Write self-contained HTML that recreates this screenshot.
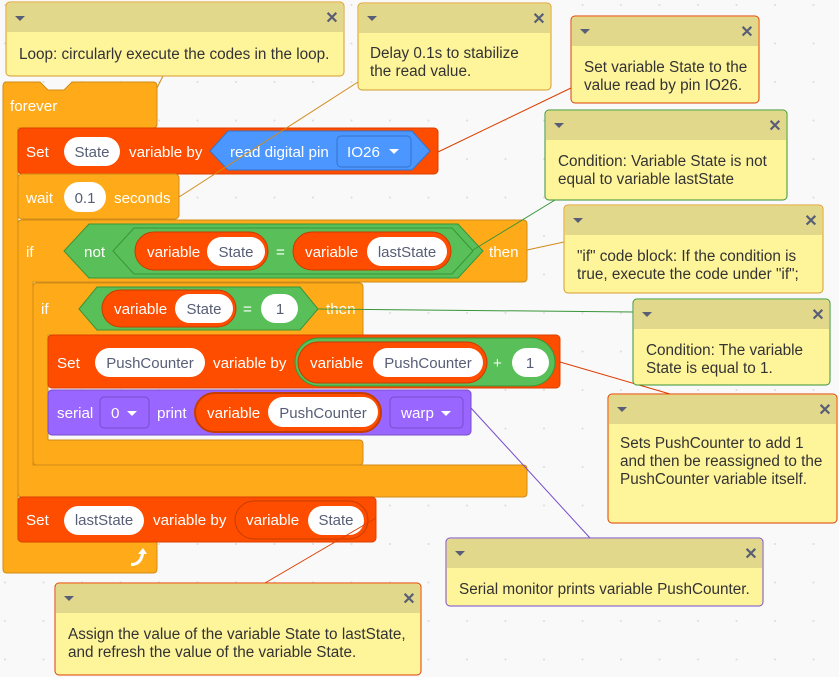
<!DOCTYPE html>
<html><head><meta charset="utf-8"><style>
html,body{margin:0;padding:0;background:#f9f9f9;}
svg{display:block;font-family:"Liberation Sans",Arial,sans-serif;}
.w{fill:#fff;font-size:15.2px;}
.g{fill:#575e75;font-size:15px;text-anchor:middle;}
.c{fill:#333;font-size:15.3px;}
.blk{fill:#ffab19;stroke:#cf8b17;stroke-width:1;}
.red{fill:#ff4d00;stroke:#db3e00;stroke-width:1;}
.pill{fill:#fff;}
.hex{fill:#59c059;stroke:#389438;stroke-width:1;}
</style></head><body>
<svg width="839" height="677" viewBox="0 0 839 677" xmlns="http://www.w3.org/2000/svg">
<defs>
<pattern id="dots" width="38.5" height="38.5" patternUnits="userSpaceOnUse" x="3" y="3">
<circle cx="2" cy="2" r="1" fill="#dcdcdc"/>
</pattern>
<g id="tri"><path d="M0 0 L10 0 L5 5 Z" fill="#575e75"/></g>
</defs>
<rect width="839" height="677" fill="#f9f9f9"/>
<rect width="839" height="677" fill="url(#dots)"/>

<!-- forever -->
<path class="blk" d="M7 82 L40 82 L48 90 L64 90 L72 82 L153 82 Q157 82 157 86 L157 124 Q157 128 153 128 L18 128 L18 540 L153 540 Q157 540 157 544 L157 569 Q157 573 153 573 L7 573 Q3 573 3 569 L3 86 Q3 82 7 82 Z"/>
<text class="w" x="10" y="111">forever</text>
<path d="M131 563 Q139 563 141 554 L138 554 L143 548 L147 554 L144 554 Q142 566 131 566 Z" fill="#fff"/>

<!-- if outer -->
<path class="blk" d="M22 220 L523 220 Q527 220 527 224 L527 278 Q527 282 523 282 L33 282 L33 465 L523 465 Q527 465 527 469 L527 493 Q527 497 523 497 L22 497 Q18 497 18 493 L18 224 Q18 220 22 220 Z"/>
<text class="w" x="26" y="257">if</text>
<polygon class="hex" points="64,251 89,224 458,224 483,251 458,278 89,278"/>
<text class="w" x="84" y="257">not</text>
<polygon class="hex" points="113,251 134,228 452,228 473,251 452,274 134,274"/>
<rect x="135" y="232" width="133" height="38" rx="19" fill="#ff4d00" stroke="#c53d00"/>
<text class="w" x="147" y="257">variable</text>
<rect class="pill" x="207" y="237" width="58" height="29" rx="14.5"/>
<text class="g" x="236" y="257">State</text>
<text class="w" x="276" y="257">=</text>
<rect x="293" y="232" width="158" height="38" rx="19" fill="#ff4d00" stroke="#c53d00"/>
<text class="w" x="305" y="257">variable</text>
<rect class="pill" x="367" y="237" width="80" height="29" rx="14.5"/>
<text class="g" x="407" y="257">lastState</text>
<text class="w" x="489" y="257">then</text>

<!-- inner if -->
<path class="blk" d="M37 283 L359 283 Q363 283 363 287 L363 335 L48 335 L48 440 L359 440 Q363 440 363 444 L363 461 Q363 465 359 465 L37 465 Q33 465 33 461 L33 287 Q33 283 37 283 Z"/>
<text class="w" x="41" y="314">if</text>
<polygon class="hex" points="79,309 97,287 300,287 318,309 300,330 97,330"/>
<rect x="102" y="290" width="134" height="37" rx="18.5" fill="#ff4d00" stroke="#c53d00"/>
<text class="w" x="114" y="314">variable</text>
<rect class="pill" x="175" y="294" width="58" height="29" rx="14.5"/>
<text class="g" x="204" y="314">State</text>
<text class="w" x="243" y="314">=</text>
<rect class="pill" x="261" y="294" width="37" height="29" rx="14.5"/>
<text class="g" x="280" y="314">1</text>
<text class="w" x="326" y="314">then</text>

<!-- set state -->
<rect class="red" x="18" y="128" width="420" height="46" rx="4"/>
<text class="w" x="26" y="157">Set</text>
<rect class="pill" x="64" y="137" width="56" height="29" rx="14.5"/>
<text class="g" x="92" y="157">State</text>
<text class="w" x="129" y="157">variable by</text>
<polygon points="210,151 228,131 412,131 430,151 412,170 228,170" fill="#4c97ff" stroke="#3373cc"/>
<text class="w" x="230" y="157">read digital pin</text>
<rect x="337" y="136" width="74" height="31" rx="4" fill="#4c97ff" stroke="#3373cc"/>
<text class="w" x="347" y="157">IO26</text>
<path d="M389 149 L399 149 L394 154 Z" fill="#fff"/>

<!-- wait -->
<rect class="blk" x="18" y="174" width="161" height="45" rx="4"/>
<text class="w" x="26" y="203">wait</text>
<rect class="pill" x="64" y="182" width="42" height="30" rx="15"/>
<text class="g" x="85" y="203">0.1</text>
<text class="w" x="114" y="203">seconds</text>

<!-- set pushcounter -->
<rect class="red" x="48" y="335" width="512" height="53" rx="4"/>
<text class="w" x="57" y="368">Set</text>
<rect class="pill" x="95" y="348" width="110" height="29" rx="14.5"/>
<text class="g" x="150" y="368">PushCounter</text>
<text class="w" x="213" y="368">variable by</text>
<rect x="295" y="338" width="260" height="48" rx="24" fill="#59c059" stroke="#389438"/>
<rect x="298" y="342" width="189" height="41" rx="20.5" fill="#ff4d00" stroke="#c53d00"/>
<text class="w" x="310" y="368">variable</text>
<rect class="pill" x="373" y="348" width="110" height="29" rx="14.5"/>
<text class="g" x="428" y="368">PushCounter</text>
<text class="w" x="493" y="368">+</text>
<rect class="pill" x="512" y="348" width="37" height="29" rx="14.5"/>
<text class="g" x="530" y="368">1</text>

<!-- serial -->
<rect x="48" y="390" width="423" height="45" rx="4" fill="#9966ff" stroke="#774dcb"/>
<text class="w" x="57" y="418">serial</text>
<rect x="100" y="397" width="49" height="31" rx="4" fill="#9966ff" stroke="#774dcb"/>
<text class="w" x="111" y="418">0</text>
<path d="M127 411 L137 411 L132 416 Z" fill="#fff"/>
<text class="w" x="157" y="418">print</text>
<rect x="195" y="393" width="186" height="39" rx="19.5" fill="#ff4d00" stroke="#c53d00" stroke-width="2"/>
<text class="w" x="207" y="418">variable</text>
<rect class="pill" x="268" y="397" width="110" height="30" rx="15"/>
<text class="g" x="323" y="418">PushCounter</text>
<rect x="390" y="397" width="73" height="31" rx="4" fill="#9966ff" stroke="#774dcb"/>
<text class="w" x="401" y="418">warp</text>
<path d="M441 411 L451 411 L446 416 Z" fill="#fff"/>

<!-- set laststate -->
<rect class="red" x="18" y="497" width="358" height="45" rx="4"/>
<text class="w" x="26" y="525">Set</text>
<rect class="pill" x="64" y="506" width="80" height="29" rx="14.5"/>
<text class="g" x="104" y="525">lastState</text>
<text class="w" x="153" y="525">variable by</text>
<rect x="235" y="501" width="133" height="38" rx="19" fill="#ff4d00" stroke="#c53d00"/>
<text class="w" x="246" y="525">variable</text>
<rect class="pill" x="308" y="506" width="56" height="29" rx="14.5"/>
<text class="g" x="336" y="525">State</text>

<!-- connector lines -->
<g stroke-width="1" fill="none">
<line x1="157" y1="88" x2="163" y2="76" stroke="#cf8b17"/>
<line x1="179" y1="197" x2="358" y2="82" stroke="#cf8b17"/>
<line x1="438" y1="152" x2="571" y2="88" stroke="#db3e00"/>
<line x1="473" y1="250" x2="555" y2="200" stroke="#389438"/>
<line x1="527" y1="250" x2="564" y2="242" stroke="#cf8b17"/>
<line x1="318" y1="309" x2="633" y2="312" stroke="#389438"/>
<line x1="560" y1="362" x2="670" y2="394" stroke="#db3e00"/>
<line x1="471" y1="408" x2="590" y2="538" stroke="#774dcb"/>
<line x1="376" y1="518" x2="265" y2="583" stroke="#db3e00"/>
</g>

<!-- comments -->
<g>
<rect x="6" y="2" width="338" height="74" rx="4" fill="#fef49a" stroke="#d89a30"/>
<path d="M7 32 L7 6 Q7 3 10 3 L340 3 Q343 3 343 6 L343 32 Z" fill="#e2d88c"/>
<use href="#tri" x="15" y="16"/><text x="332" y="23" text-anchor="middle" fill="#575e75" font-size="16" font-weight="bold">✕</text>
<text class="c" x="19" y="59">Loop: circularly execute the codes in the loop.</text>

<rect x="358" y="3" width="193" height="87" rx="4" fill="#fef49a" stroke="#d89a30"/>
<path d="M359 33 L359 7 Q359 4 362 4 L547 4 Q550 4 550 7 L550 33 Z" fill="#e2d88c"/>
<use href="#tri" x="367" y="16"/><text x="539" y="24" text-anchor="middle" fill="#575e75" font-size="16" font-weight="bold">✕</text>
<text class="c" x="370" y="58">Delay 0.1s to stabilize</text>
<text class="c" x="370" y="76">the read value.</text>

<rect x="571" y="16" width="188" height="87" rx="4" fill="#fef49a" stroke="#db3e00"/>
<path d="M572 46 L572 20 Q572 17 575 17 L755 17 Q758 17 758 20 L758 46 Z" fill="#e2d88c"/>
<use href="#tri" x="580" y="29"/><text x="747" y="37" text-anchor="middle" fill="#575e75" font-size="16" font-weight="bold">✕</text>
<text class="c" x="584" y="72">Set variable State to the</text>
<text class="c" x="584" y="90">value read by pin IO26.</text>

<rect x="545" y="110" width="242" height="90" rx="4" fill="#fef49a" stroke="#389438"/>
<path d="M546 140 L546 114 Q546 111 549 111 L783 111 Q786 111 786 114 L786 140 Z" fill="#e2d88c"/>
<use href="#tri" x="554" y="123"/><text x="775" y="131" text-anchor="middle" fill="#575e75" font-size="16" font-weight="bold">✕</text>
<text class="c" x="558" y="166">Condition: Variable State is not</text>
<text class="c" x="558" y="184">equal to variable lastState</text>

<rect x="564" y="205" width="259" height="88" rx="4" fill="#fef49a" stroke="#d89a30"/>
<path d="M565 235 L565 209 Q565 206 568 206 L819 206 Q822 206 822 209 L822 235 Z" fill="#e2d88c"/>
<use href="#tri" x="573" y="218"/><text x="811" y="226" text-anchor="middle" fill="#575e75" font-size="16" font-weight="bold">✕</text>
<text class="c" x="577" y="261">"if" code block: If the condition is</text>
<text class="c" x="577" y="279">true, execute the code under "if";</text>

<rect x="633" y="299" width="197" height="86" rx="4" fill="#fef49a" stroke="#389438"/>
<path d="M634 329 L634 303 Q634 300 637 300 L826 300 Q829 300 829 303 L829 329 Z" fill="#e2d88c"/>
<use href="#tri" x="642" y="312"/><text x="818" y="320" text-anchor="middle" fill="#575e75" font-size="16" font-weight="bold">✕</text>
<text class="c" x="646" y="355">Condition: The variable</text>
<text class="c" x="646" y="373">State is equal to 1.</text>

<rect x="608" y="394" width="229" height="129" rx="4" fill="#fef49a" stroke="#db3e00"/>
<path d="M609 424 L609 398 Q609 395 612 395 L833 395 Q836 395 836 398 L836 424 Z" fill="#e2d88c"/>
<use href="#tri" x="617" y="407"/><text x="825" y="415" text-anchor="middle" fill="#575e75" font-size="16" font-weight="bold">✕</text>
<text class="c" x="620" y="448">Sets PushCounter to add 1</text>
<text class="c" x="620" y="466">and then be reassigned to the</text>
<text class="c" x="620" y="484">PushCounter variable itself.</text>

<rect x="446" y="538" width="317" height="68" rx="4" fill="#fef49a" stroke="#774dcb"/>
<path d="M447 568 L447 542 Q447 539 450 539 L759 539 Q762 539 762 542 L762 568 Z" fill="#e2d88c"/>
<use href="#tri" x="455" y="551"/><text x="751" y="559" text-anchor="middle" fill="#575e75" font-size="16" font-weight="bold">✕</text>
<text class="c" x="459" y="594">Serial monitor prints variable PushCounter.</text>

<rect x="55" y="583" width="366" height="92" rx="4" fill="#fef49a" stroke="#db3e00"/>
<path d="M56 613 L56 587 Q56 584 59 584 L417 584 Q420 584 420 587 L420 613 Z" fill="#e2d88c"/>
<use href="#tri" x="64" y="596"/><text x="409" y="604" text-anchor="middle" fill="#575e75" font-size="16" font-weight="bold">✕</text>
<text class="c" x="68" y="639">Assign the value of the variable State to lastState,</text>
<text class="c" x="68" y="657">and refresh the value of the variable State.</text>
</g>
</svg>
</body></html>
